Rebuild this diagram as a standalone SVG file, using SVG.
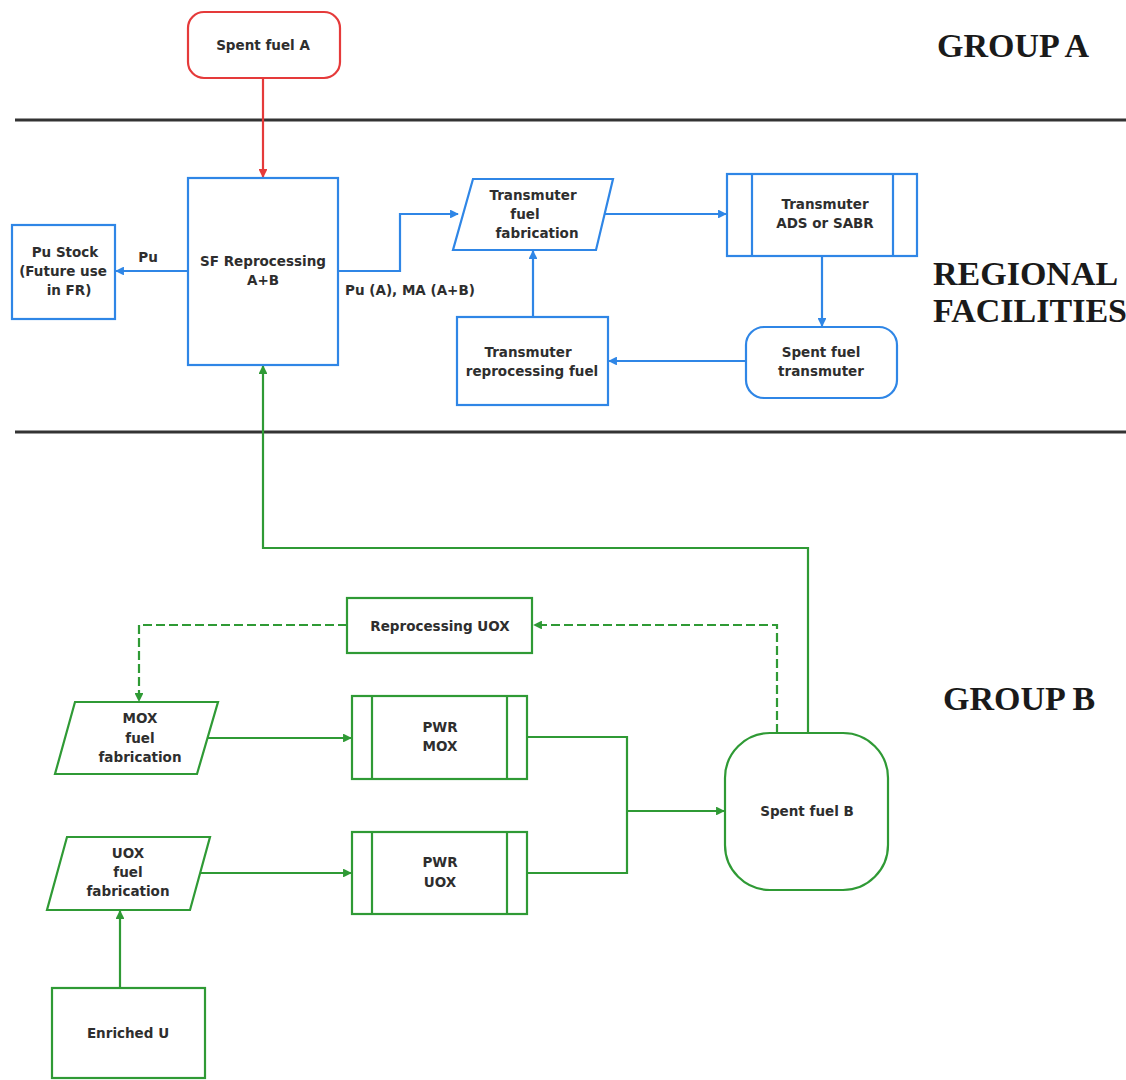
<svg xmlns="http://www.w3.org/2000/svg" width="1126" height="1080" viewBox="0 0 1126 1080">
<defs>
<style>
.t{font-family:"DejaVu Sans","Liberation Sans",Arial,sans-serif;font-weight:bold;font-size:13.5px;fill:#2e2e2e;text-anchor:middle}
.h{font-family:"Liberation Serif","Times New Roman",serif;font-weight:bold;font-size:34px;fill:#1a1a1a}
.b{fill:#fff;stroke:#2f86e6;stroke-width:2.2}
.r{fill:#fff;stroke:#e53a3a;stroke-width:2.2}
.g{fill:#fff;stroke:#2f9a35;stroke-width:2.2}
.cb{fill:none;stroke:#2f86e6;stroke-width:2.2}
.cr{fill:none;stroke:#e53a3a;stroke-width:2.2}
.cg{fill:none;stroke:#2f9a35;stroke-width:2.2}
.dg{fill:none;stroke:#2f9a35;stroke-width:2.2;stroke-dasharray:9,4}
.sep{stroke:#333;stroke-width:3}
</style>
<marker id="ab" viewBox="0 0 10 10" refX="9" refY="5" markerWidth="4" markerHeight="4" orient="auto"><path d="M0,0 L10,5 L0,10 z" fill="#2f86e6"/></marker>
<marker id="ar" viewBox="0 0 10 10" refX="9" refY="5" markerWidth="4" markerHeight="4" orient="auto"><path d="M0,0 L10,5 L0,10 z" fill="#e53a3a"/></marker>
<marker id="ag" viewBox="0 0 10 10" refX="9" refY="5" markerWidth="4" markerHeight="4" orient="auto"><path d="M0,0 L10,5 L0,10 z" fill="#2f9a35"/></marker>
</defs>
<rect width="1126" height="1080" fill="#fff"/>

<g id="separators">
<line class="sep" x1="15" y1="120" x2="1126" y2="120"/>
<line class="sep" x1="15" y1="432" x2="1126" y2="432"/>
</g>
<g id="labels">
<text class="h" x="937" y="57">GROUP A</text>
<text class="h" x="933" y="285">REGIONAL</text>
<text class="h" x="933" y="322">FACILITIES</text>
<text class="h" x="943" y="710">GROUP B</text>
</g>

<g id="connectors">
<path class="cr" d="M263,78 V177" marker-end="url(#ar)"/>
<path class="cb" d="M188,271 H116" marker-end="url(#ab)"/>
<text class="t" x="148" y="262">Pu</text>
<path class="cb" d="M338,271 H400 V214 H458" marker-end="url(#ab)"/>
<text class="t" x="410" y="295">Pu (A), MA (A+B)</text>
<path class="cb" d="M604,214 H726" marker-end="url(#ab)"/>
<path class="cb" d="M822,256 V326" marker-end="url(#ab)"/>
<path class="cb" d="M746,361 H609" marker-end="url(#ab)"/>
<path class="cb" d="M533,317 V251" marker-end="url(#ab)"/>
<path class="cg" d="M808,733 V548 H263 V366" marker-end="url(#ag)"/>
<path class="dg" d="M777,733 V625 H534" marker-end="url(#ag)"/>
<path class="dg" d="M347,625 H139 V701" marker-end="url(#ag)"/>
<path class="cg" d="M207,738 H351" marker-end="url(#ag)"/>
<path class="cg" d="M200,873 H351" marker-end="url(#ag)"/>
<path class="cg" d="M527,737 H627 V873 H527"/>
<path class="cg" d="M627,811 H724" marker-end="url(#ag)"/>
<path class="cg" d="M120,988 V911" marker-end="url(#ag)"/>
</g>

<g id="spent-fuel-a">
<rect class="r" x="188" y="12" width="152" height="66" rx="16"/>
<text class="t" x="263" y="50">Spent fuel A</text>
</g>
<g id="sf-reprocessing">
<rect class="b" x="188" y="178" width="150" height="187"/>
<text class="t" x="263" y="266">SF Reprocessing</text>
<text class="t" x="263" y="285">A+B</text>
</g>
<g id="pu-stock">
<rect class="b" x="12" y="225" width="103" height="94"/>
<text class="t" x="65" y="257">Pu Stock</text>
<text class="t" x="63" y="276">(Future use</text>
<text class="t" x="69" y="295">in FR)</text>
</g>
<g id="transmuter-fuel-fab">
<path class="b" d="M473,179 H613 L596,250 H453 Z"/>
<text class="t" x="533" y="200">Transmuter</text>
<text class="t" x="525" y="219">fuel</text>
<text class="t" x="537" y="238">fabrication</text>
</g>
<g id="transmuter-ads">
<rect class="b" x="727" y="174" width="190" height="82"/>
<line class="cb" x1="752" y1="174" x2="752" y2="256"/>
<line class="cb" x1="893" y1="174" x2="893" y2="256"/>
<text class="t" x="825" y="209">Transmuter</text>
<text class="t" x="825" y="228">ADS or SABR</text>
</g>
<g id="spent-fuel-transmuter">
<rect class="b" x="746" y="327" width="151" height="71" rx="18"/>
<text class="t" x="821" y="357">Spent fuel</text>
<text class="t" x="821" y="376">transmuter</text>
</g>
<g id="transmuter-reprocessing">
<rect class="b" x="457" y="317" width="151" height="88"/>
<text class="t" x="528" y="357">Transmuter</text>
<text class="t" x="532" y="376">reprocessing fuel</text>
</g>
<g id="reprocessing-uox">
<rect class="g" x="347" y="598" width="185" height="55"/>
<text class="t" x="440" y="631">Reprocessing UOX</text>
</g>
<g id="mox-fuel-fab">
<path class="g" d="M75,702 H218 L197,774 H55 Z"/>
<text class="t" x="140" y="723">MOX</text>
<text class="t" x="140" y="743">fuel</text>
<text class="t" x="140" y="762">fabrication</text>
</g>
<g id="pwr-mox">
<rect class="g" x="352" y="696" width="175" height="83"/>
<line class="cg" x1="372" y1="696" x2="372" y2="779"/>
<line class="cg" x1="507" y1="696" x2="507" y2="779"/>
<text class="t" x="440" y="732">PWR</text>
<text class="t" x="440" y="751">MOX</text>
</g>
<g id="pwr-uox">
<rect class="g" x="352" y="832" width="175" height="82"/>
<line class="cg" x1="372" y1="832" x2="372" y2="914"/>
<line class="cg" x1="507" y1="832" x2="507" y2="914"/>
<text class="t" x="440" y="867">PWR</text>
<text class="t" x="440" y="887">UOX</text>
</g>
<g id="spent-fuel-b">
<rect class="g" x="725" y="733" width="163" height="157" rx="45"/>
<text class="t" x="807" y="816">Spent fuel B</text>
</g>
<g id="uox-fuel-fab">
<path class="g" d="M67,837 H210 L190,910 H47 Z"/>
<text class="t" x="128" y="858">UOX</text>
<text class="t" x="128" y="877">fuel</text>
<text class="t" x="128" y="896">fabrication</text>
</g>
<g id="enriched-u">
<rect class="g" x="52" y="988" width="153" height="90"/>
<text class="t" x="128" y="1038">Enriched U</text>
</g>
</svg>
